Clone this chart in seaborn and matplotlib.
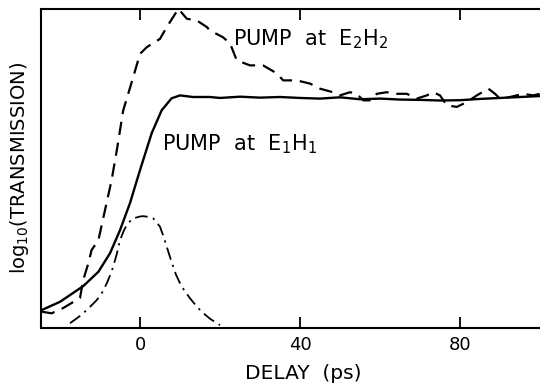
import matplotlib
matplotlib.use("Agg")
import matplotlib.pyplot as plt
import seaborn as sns
import pandas as pd

# ---- data ----
e1_x = [-24.6, -20, -14.2, -10.4, -7.5, -5, -2.5, 0, 2.9, 5.4, 7.9, 10, 13.25, 17.5,
        20, 25, 30, 35, 40, 45, 50, 55, 60, 65, 70, 75, 80, 85, 90, 95, 100]
e1_y = [5.6, 8.2, 13.1, 17.6, 23.4, 30.6, 39.1, 49.4, 60.9, 68.1, 71.9, 72.8, 72.3, 72.3,
        72.0, 72.4, 72.1, 72.3, 72.0, 71.8, 72.2, 71.6, 71.8, 71.5, 71.4, 71.2, 71.3, 71.7, 72.0, 72.3, 72.6]

e2_x = [-24.6, -22.1, -19.2, -15, -14.2, -12.9, -12.1, -10.4, -8.75, -7.1, -5.8, -4.2, -1.7, 0,
        1.7, 5, 6.7, 9.6, 11.7, 14.2, 16.7, 17.5, 20.75, 22.5, 24.2, 27.5, 30.75, 34.2, 35.8,
        39.2, 42.5, 45, 48.25, 50, 52.5, 54.2, 55.8, 57.5, 59.2, 61.7, 64.2, 66.7, 69.2, 71.7,
        73.3, 75, 76.7, 79.2, 81.7, 84.2, 87.1, 88.75, 90, 92.5, 95.8, 98.3, 100]
e2_y = [5.1, 4.6, 6.25, 9.4, 15, 20.3, 24.4, 27.5, 36.9, 46.25, 55.6, 68.1, 78.5, 85.8,
        87.9, 90.5, 94.2, 99.9, 96.8, 96.25, 94.2, 93.1, 91, 89.1, 83.75, 82.2, 82.2, 79.7, 77.5,
        77.5, 76.5, 74.9, 73.8, 72.8, 73.8, 73.3, 71.25, 71.25, 73.3, 73.8, 73.3, 73.3, 71.8, 72.8,
        73.8, 72.8, 69.7, 69.2, 70.7, 72.8, 74.9, 73.3, 71.8, 72.3, 73.3, 72.8, 73.3]

pulse_x = [-17.5, -15.5, -14.2, -12.5, -10.8, -9.5, -8.3, -7.5, -6.7, -5.8, -5, -4, -3.3, -2.5,
           -1.7, 0, 0.8, 2, 3.3, 4, 5, 5.8, 6.7, 7.5, 8.3, 9, 10, 11, 12.5, 14, 15.5, 17.5, 20]
pulse_y = [1.5, 3.3, 4.6, 6.6, 8.75, 11.0, 14, 16.4, 19.2, 23.2, 27.5, 30.6, 32.2, 33.4,
           34.3, 34.9, 35, 34.8, 34.3, 33.3, 31.7, 28.9, 25.4, 22.2, 19.2, 16.7, 14, 11.9, 9.3, 7.0, 5.0, 2.9, 0.9]

x_ticks = [0, 40, 80]
label_e2 = "PUMP  at  E$_2$H$_2$"
label_e1 = "PUMP  at  E$_1$H$_1$"

# ---- plotting ----
sns.set_style("ticks")
plt.rcParams['font.family'] = ['DejaVu Sans']
plt.rcParams['text.color'] = 'black'
plt.rcParams['axes.labelcolor'] = 'black'
plt.rcParams['mathtext.fontset'] = 'dejavusans'

fig = plt.figure(figsize=(5.40, 3.83), dpi=100)
ax = fig.add_axes([41 / 540, 1 - 328 / 383, 1 - 41 / 540, (328 - 8.5) / 383])

df1 = pd.DataFrame({"x": e1_x, "y": e1_y})
df2 = pd.DataFrame({"x": e2_x, "y": e2_y})
df3 = pd.DataFrame({"x": pulse_x, "y": pulse_y})

sns.lineplot(data=df1, x="x", y="y", ax=ax, color="black", lw=1.7, sort=False)
l2 = sns.lineplot(data=df2, x="x", y="y", ax=ax, color="black", lw=1.6, sort=False).lines[-1]
l2.set_dashes([6, 3.5])
l3 = sns.lineplot(data=df3, x="x", y="y", ax=ax, color="black", lw=1.3, sort=False).lines[-1]
l3.set_dashes([7, 3, 1.2, 3])

ax.set_xlim(-24.75, 100)
ax.set_ylim(0, 100)
ax.set_xticks(x_ticks)
ax.set_xticklabels([str(t) for t in x_ticks])
ax.set_yticks([])
ax.tick_params(axis="x", direction="in", length=8, width=1.3, top=True, bottom=True,
               labelsize=13, pad=6, colors="black")
for side in ["left", "bottom", "top"]:
    ax.spines[side].set_linewidth(1.5)
    ax.spines[side].set_color("black")
ax.spines["right"].set_visible(False)

ax.set_xlabel("DELAY  (ps)", fontsize=14.5)
ax.xaxis.set_label_coords((303 - 41) / 499, -(364 - 328) / 319.5)
ax.set_ylabel("log$_{10}$(TRANSMISSION)", fontsize=14)
ax.yaxis.set_label_coords(-(41 - 31) / 499, 0.5)

ax.text(23.25, 88.4, label_e2, fontsize=15, ha="left", va="baseline")
ax.text(5.5, 55.6, label_e1, fontsize=15, ha="left", va="baseline")

fig.savefig("out.png", dpi=100)
